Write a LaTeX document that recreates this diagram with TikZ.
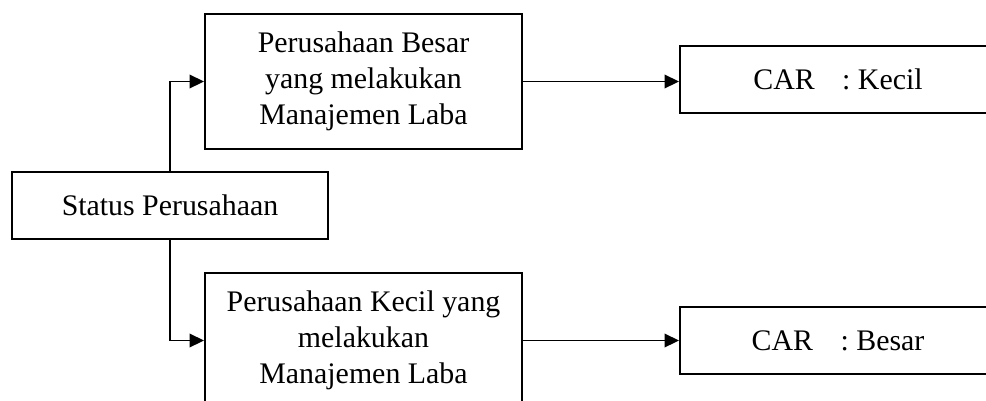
\documentclass[tikz,border=0pt]{standalone}
\usepackage{fontspec}
\setmainfont{Liberation Serif}
\usepackage{tikz}
\usetikzlibrary{arrows.meta}

\begin{document}
\begin{tikzpicture}[x=0.02cm, y=-0.02cm,
      box/.style={draw, line width=1.1pt, align=center, inner sep=0pt,
        font=\fontsize{17}{20.5}\selectfont},
      arr/.style={line width=1.1pt, -{Triangle[length=0.29cm, width=0.27cm]}}]
      \useasboundingbox (0,0) rectangle (986,400);

      \node[box, minimum width=316*0.02cm, minimum height=67*0.02cm] (status) at (170,205.5) {Status Perusahaan};

      \node[box, minimum width=317*0.02cm, minimum height=135*0.02cm] (besar) at (363.5,81.5)
        {Perusahaan Besar\\yang melakukan\\Manajemen Laba};
      \node[box, minimum width=317*0.02cm, minimum height=135*0.02cm] (kecil) at (363.5,340.5)
        {Perusahaan Kecil yang\\melakukan\\Manajemen Laba};

      \node[box, minimum width=316*0.02cm, minimum height=67*0.02cm] (carK) at (838,79.5)
        {CAR\hspace{0.55cm}: Kecil};
      \node[box, minimum width=316*0.02cm, minimum height=67*0.02cm] (carB) at (838,340.5)
        {CAR\hspace{0.55cm}: Besar};

      \draw[arr] (status.north) |- (besar.west);
      \draw[arr] (status.south) |- (kecil.west);

      \draw[arr] (besar.east) -- (besar.east -| carK.west);
      \draw[arr] (kecil.east) -- (kecil.east -| carB.west);
    \end{tikzpicture}
\end{document}
